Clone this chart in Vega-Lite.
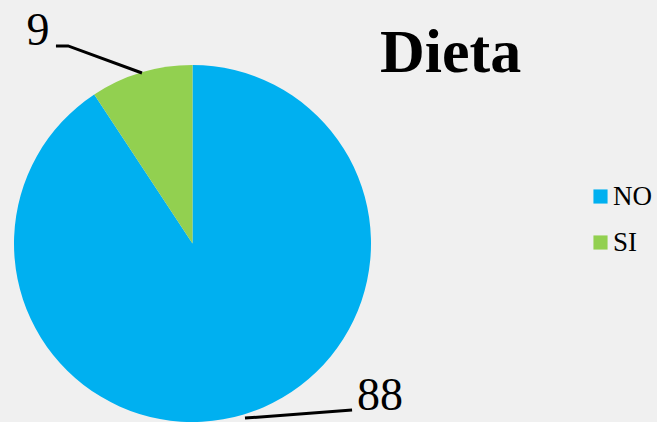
{
  "$schema": "https://vega.github.io/schema/vega-lite/v6.json",
  "autosize": "none",
  "width": 357,
  "height": 357,
  "padding": {"left": 14, "top": 65, "right": 286, "bottom": 0},
  "background": "#f0f0f0",
  "config": {"view": {"stroke": null}},
  "title": {
    "text": "Dieta",
    "font": "Liberation Serif",
    "fontSize": 62,
    "fontWeight": "bold",
    "color": "#000000",
    "anchor": "start",
    "frame": "group",
    "baseline": "top",
    "offset": 0,
    "dx": 366,
    "dy": 77
  },
  "datasets": {
    "pie": [
      {"categoria": "NO", "valor": 88},
      {"categoria": "SI", "valor": 9}
    ],
    "etiquetas": [
      {"texto": "9", "x": -0.866, "y": 1.112},
      {"texto": "88", "x": 1.05, "y": -0.933}
    ],
    "lineas": [
      {"linea": "a", "orden": 1, "x": -0.765, "y": 1.107},
      {"linea": "a", "orden": 2, "x": -0.697, "y": 1.107},
      {"linea": "a", "orden": 3, "x": -0.283, "y": 0.955},
      {"linea": "b", "orden": 1, "x": 0.294, "y": -0.978},
      {"linea": "b", "orden": 2, "x": 0.894, "y": -0.933}
    ]
  },
  "layer": [
    {
      "data": {"name": "pie"},
      "mark": {"type": "arc", "stroke": null},
      "encoding": {
        "theta": {"field": "valor", "type": "quantitative", "stack": true},
        "color": {
          "field": "categoria",
          "type": "nominal",
          "scale": {"domain": ["NO", "SI"], "range": ["#00b0f0", "#92d050"]},
          "legend": {
            "title": null,
            "orient": "none",
            "legendX": 573,
            "legendY": 118,
            "padding": 0,
            "symbolType": "square",
            "symbolSize": 200,
            "symbolStrokeWidth": 0,
            "labelFont": "Liberation Serif",
            "labelFontSize": 27,
            "labelColor": "#000000",
            "labelOffset": -1,
            "rowPadding": 18
          }
        },
        "order": {"field": "categoria", "sort": "ascending"}
      }
    },
    {
      "data": {"name": "lineas"},
      "mark": {"type": "line", "color": "#000000", "strokeWidth": 3},
      "encoding": {
        "x": {"field": "x", "type": "quantitative", "scale": {"domain": [-1, 1], "nice": false, "zero": false}, "axis": null},
        "y": {"field": "y", "type": "quantitative", "scale": {"domain": [-1, 1], "nice": false, "zero": false}, "axis": null},
        "detail": {"field": "linea", "type": "nominal"},
        "order": {"field": "orden", "type": "quantitative"}
      }
    },
    {
      "data": {"name": "etiquetas"},
      "mark": {"type": "text", "font": "Liberation Serif", "fontSize": 46, "color": "#000000", "baseline": "alphabetic", "align": "center"},
      "encoding": {
        "x": {"field": "x", "type": "quantitative", "scale": {"domain": [-1, 1], "nice": false, "zero": false}, "axis": null},
        "y": {"field": "y", "type": "quantitative", "scale": {"domain": [-1, 1], "nice": false, "zero": false}, "axis": null},
        "text": {"field": "texto", "type": "nominal"}
      }
    }
  ]
}
